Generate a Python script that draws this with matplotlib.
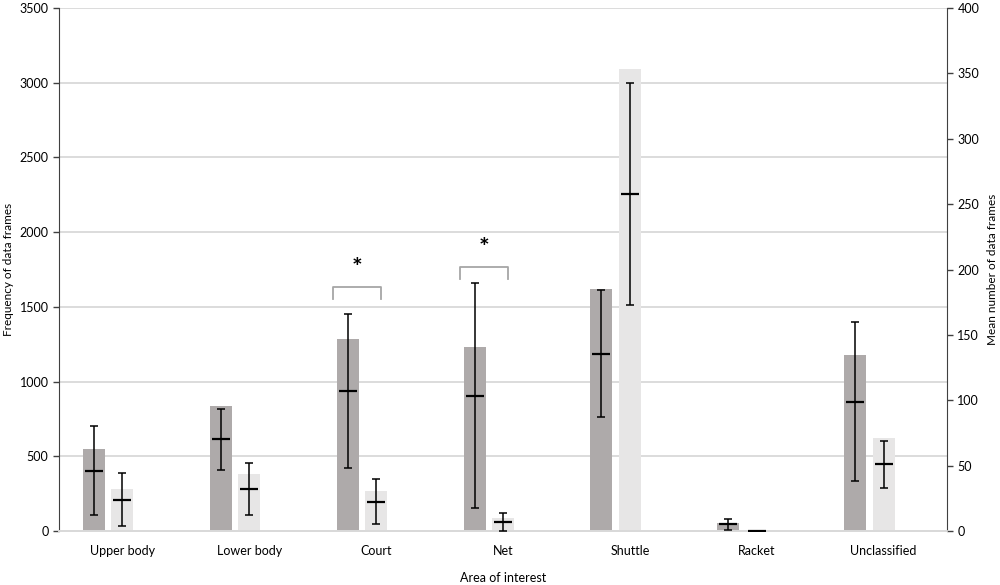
import numpy as np
import matplotlib
matplotlib.use("Agg")
import matplotlib.pyplot as plt

plt.rcParams['font.family'] = ['Lato', 'DejaVu Sans']

# data
categories = ["Upper body", "Lower body", "Court", "Net", "Shuttle", "Racket", "Unclassified"]
freq_dark = [548, 838, 1283, 1233, 1621, 51, 1176]
freq_light = [284, 381, 268, 85, 3092, 3, 620]
mean_dark = [46, 70, 107, 103.5, 135.5, 5, 99]
err_dark = [34, 23, 59, 86, 48.5, 4, 61]
mean_light = [24, 32, 22.5, 7, 258, 0.3, 51]
err_light = [20.5, 20, 17.5, 7, 85, 0, 18]

# significance brackets (left axis units)
sig_cats = ["Court", "Net"]
sig_top = [1635, 1770]
sig_drop = 82

DARK = "#aeaaaa"
LIGHT = "#e7e6e6"
GRID = "#d9d9d9"

fig = plt.figure(figsize=(10, 5.85), dpi=100)
ax = fig.add_axes([0.059, 0.0923, 0.888, 0.8940])
ax2 = ax.twinx()

x = np.arange(len(categories))
w = 0.173
off = 0.224

ax.bar(x - off, freq_dark, w, color=DARK, zorder=2)
ax.bar(x, freq_light, w, color=LIGHT, zorder=2)

for xs, m, e in [(x - off, mean_dark, err_dark), (x, mean_light, err_light)]:
    ax2.errorbar(xs, m, yerr=e, fmt='none', ecolor='black', elinewidth=1.1,
                 capsize=3, capthick=1.1, zorder=3)
    ax2.plot(xs, m, ls='none', marker='_', ms=13, mew=1.6, color='black', zorder=4)

for cat, top in zip(sig_cats, sig_top):
    i = categories.index(cat)
    cx = i - 0.15
    hw = 0.19
    ax.plot([cx - hw, cx - hw, cx + hw, cx + hw],
            [top - sig_drop, top, top, top - sig_drop],
            color="#a6a6a6", lw=1.3, zorder=3, solid_joinstyle='round')
    ax.text(cx, top + 120, "*", ha='center', va='center', fontsize=18,
            fontweight='bold', color='black')

ax.set_xlim(-0.5, len(categories) - 0.5)
ax.set_ylim(0, 3500)
ax.set_yticks(np.arange(0, 3501, 500))
ax2.set_ylim(0, 400)
ax2.set_yticks(np.arange(0, 401, 50))

ax.set_xticks(x)
ax.set_xticklabels(categories)
ax.yaxis.grid(True, color=GRID, lw=1.3)
ax.set_axisbelow(True)

for a in (ax, ax2):
    a.spines['top'].set_visible(False)
    a.spines['bottom'].set_color(GRID)
    a.spines['bottom'].set_linewidth(1.3)
    a.tick_params(axis='x', length=0, pad=10, labelsize=9)
    a.tick_params(axis='y', length=4, width=1, labelsize=9, colors='#404040',
                  labelcolor='black')
ax.spines['left'].set_color('#404040')
ax.spines['right'].set_visible(False)
ax2.spines['left'].set_visible(False)
ax2.spines['right'].set_color('#404040')

ax.set_xlabel("Area of interest", fontsize=9, va='center')
ax.set_ylabel("Frequency of data frames", fontsize=8.5, va='center')
ax2.set_ylabel("Mean number of data frames", fontsize=8.5, va='center')
ax.xaxis.set_label_coords(0.5, -0.0899)
ax.yaxis.set_label_coords(-0.0574, 0.5)
ax2.yaxis.set_label_coords(1.0518, 0.5)

fig.savefig("out.png", dpi=100)
